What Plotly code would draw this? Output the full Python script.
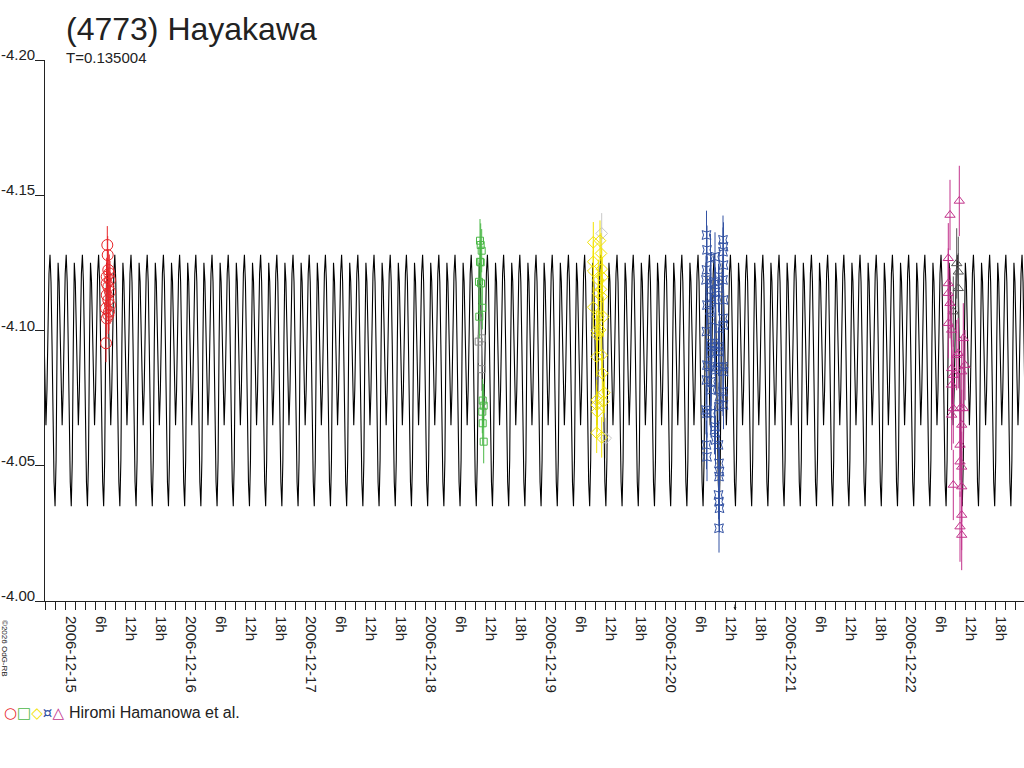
import pandas as pd
import plotly.graph_objects as go

# ---------------- data ----------------
TITLE = "(4773) Hayakawa"
PERIOD_DAYS = 0.135004
SUBTITLE = "T=0.135004"
OBSERVER = "Hiromi Hamanowa et al."
COPYRIGHT = "©2026 OdG-RB"

# one cycle of the fitted model light curve (phase, magnitude)
MODEL_PHASE = [0.0, 0.0625, 0.125, 0.1875, 0.25, 0.3125, 0.375, 0.4375,
               0.5, 0.5625, 0.625, 0.6875, 0.75, 0.8125, 0.875, 0.9375]
MODEL_MAG = [-4.128, -4.118, -4.095, -4.066, -4.044, -4.035, -4.052, -4.095,
             -4.125, -4.118, -4.098, -4.076, -4.065, -4.078, -4.102, -4.121]
MODEL_EPOCH = "2006-12-14 21:00"
MODEL_CYCLES = (-1, 62)

# session 1 : red circles, 2006-12-15
S1_DATE = "2006-12-15"
S1_HOURS = [8.46, 8.54, 8.66, 8.86, 8.34, 9.00, 8.34, 8.66, 9.00, 8.34, 8.66,
            9.00, 8.20, 8.80, 8.66, 8.34, 8.20]
S1_MAG = [-4.1316, -4.1279, -4.1224, -4.1211, -4.1199, -4.1187, -4.1174,
          -4.1162, -4.1143, -4.1131, -4.1113, -4.1094, -4.1082, -4.1070,
          -4.1057, -4.1045, -4.0953]
S1_ERR = 0.007

# session 2 : green squares, 2006-12-18
S2_DATE = "2006-12-18"
S2_HOURS = [11.00, 11.14, 11.34, 11.00, 11.14, 10.80, 11.20, 11.46, 10.86,
            11.54, 11.74, 11.46, 11.54, 11.74]
S2_MAG = [-4.1332, -4.1316, -4.1295, -4.1254, -4.1252, -4.1180, -4.1174,
          -4.1084, -4.1051, -4.0741, -4.0722, -4.0700, -4.0657, -4.0589]
S2_GREY_HOURS = [11.34, 10.74, 11.34]
S2_GREY_MAG = [-4.0971, -4.0959, -4.0857]
S2_ERR = 0.008

# session 3 : yellow diamonds, 2006-12-19
S3_DATE = "2006-12-19"
S3_HOURS = [11.00, 9.66, 11.20, 9.66, 11.34, 9.66, 11.46, 10.66, 11.20, 10.66,
            11.34, 9.66, 10.66, 11.66, 10.34, 11.00, 10.46, 10.34, 11.34,
            11.46, 11.86, 10.34, 10.34, 11.66, 10.46, 10.34, 11.34]
S3_MAG = [-4.1332, -4.1326, -4.1285, -4.1254, -4.1227, -4.1220, -4.1197,
          -4.1187, -4.1152, -4.1138, -4.1125, -4.1086, -4.1051, -4.1051,
          -4.0999, -4.1002, -4.0983, -4.0903, -4.0909, -4.0842, -4.0770,
          -4.0743, -4.0725, -4.0737, -4.0700, -4.0622, -4.0605]
S3_GREY_HOURS = [11.34, 12.14]
S3_GREY_MAG = [-4.1359, -4.0602]
S3_ERR = 0.0075

# session 4 : blue, 2006-12-20
S4_DATE = "2006-12-20"
S4_HOURS = [8.3, 8.4, 8.3, 8.2, 8.4, 8.3, 8.4, 8.3, 8.2, 8.4, 8.3, 8.4,
            9.1, 9.2, 9.1, 9.0, 9.2, 9.1, 9.2, 9.1, 9.0, 9.2, 9.1, 9.2,
            10.0, 9.9, 10.1, 10.0, 9.9, 10.0, 10.1, 10.0, 9.9, 10.1,
            10.8, 10.7, 10.9, 10.8, 10.7, 10.8, 10.9, 10.8, 10.7, 10.8, 10.9,
            10.8, 10.7, 10.8, 10.9, 10.8,
            11.6, 11.7, 11.6, 11.7, 11.6, 11.7, 11.6, 11.7, 11.6, 11.7, 11.6,
            11.7]
S4_MAG = [-4.1353, -4.1298, -4.1224, -4.1187, -4.1094, -4.0996, -4.0872,
          -4.0817, -4.0706, -4.0694, -4.0577, -4.0533,
          -4.1267, -4.1174, -4.1125, -4.1076, -4.1039, -4.0953, -4.0940,
          -4.0916, -4.0866, -4.0811, -4.0780, -4.0694,
          -4.1273, -4.1180, -4.1143, -4.1113, -4.0953, -4.0922, -4.0854,
          -4.0644, -4.0632, -4.0595,
          -4.1199, -4.1156, -4.1008, -4.0940, -4.0922, -4.0866, -4.0755,
          -4.0718, -4.0577, -4.0509, -4.0478, -4.0460, -4.0392, -4.0367,
          -4.0343, -4.0269,
          -4.1335, -4.1310, -4.1291, -4.1242, -4.1187, -4.1113, -4.1045,
          -4.1020, -4.0866, -4.0848, -4.0774, -4.0725]
S4_ERR = 0.009

# session 5 : magenta triangles, 2006-12-22
S5_DATE = "2006-12-22"
S5_HOURS = [10.86, 9.00, 8.66, 8.66, 8.66, 9.00, 8.66, 9.34, 11.66, 10.66,
            12.00, 10.34, 9.34, 9.66, 9.34, 11.34, 9.66, 11.00, 11.66, 11.34,
            9.34, 11.00, 11.00, 11.34, 9.66, 11.34, 11.34, 11.00, 11.34]
S5_MAG = [-4.1479, -4.1427, -4.1267, -4.1174, -4.1138, -4.1101, -4.1027,
          -4.1002, -4.0971, -4.0916, -4.0872, -4.0909, -4.0860, -4.0835,
          -4.0799, -4.0848, -4.0712, -4.0712, -4.0712, -4.0651, -4.0688,
          -4.0577, -4.0515, -4.0496, -4.0429, -4.0423, -4.0318, -4.0275,
          -4.0244]
S5_GREY_HOURS = [10.34, 10.66, 10.66, 9.66]
S5_GREY_MAG = [-4.1248, -4.1217, -4.1156, -4.1070]
S5_ERR = 0.013

Y_TICKS = [-4.20, -4.15, -4.10, -4.05, -4.00]
Y_TICK_TEXT = ["-4.20", "-4.15", "-4.10", "-4.05", "-4.00"]
X_START = "2006-12-14 20:00"
X_END = "2006-12-22 23:48"
HOUR_LABELS = {6: "6h", 12: "12h", 18: "18h"}
MARK_TIME = "2006-12-20 14:00"

# ---------------- build ----------------
FONT = "Liberation Sans, Arial, sans-serif"


def times(date, hours):
    base = pd.Timestamp(date)
    return [base + pd.Timedelta(hours=h) for h in hours]


epoch = pd.Timestamp(MODEL_EPOCH)
mx, my = [], []
for k in range(MODEL_CYCLES[0], MODEL_CYCLES[1]):
    for ph, m in zip(MODEL_PHASE, MODEL_MAG):
        mx.append(epoch + pd.Timedelta(days=(k + ph) * PERIOD_DAYS))
        my.append(m)

fig = go.Figure()
fig.add_trace(go.Scatter(x=mx, y=my, mode="lines",
                         line=dict(color="#000000", width=1.1),
                         hoverinfo="skip", showlegend=False))

sessions = [
    (S1_DATE, S1_HOURS, S1_MAG, [], [], S1_ERR, "#e8262a", "circle-open", 11, "#909090"),
    (S2_DATE, S2_HOURS, S2_MAG, S2_GREY_HOURS, S2_GREY_MAG, S2_ERR, "#4cb848", "square-open", 7, "#8a8a8a"),
    (S3_DATE, S3_HOURS, S3_MAG, S3_GREY_HOURS, S3_GREY_MAG, S3_ERR, "#f2e300", "diamond-open", 9, "#c8c8c8"),
    (S4_DATE, S4_HOURS, S4_MAG, [], [], S4_ERR, "#3352a3", "star-square-open", 8, "#555555"),
    (S5_DATE, S5_HOURS, S5_MAG, S5_GREY_HOURS, S5_GREY_MAG, S5_ERR, "#c2348c", "triangle-up-open", 9, "#555555"),
]
for date, hrs, mags, ghrs, gmags, err, col, sym, size, gcol in sessions:
    if ghrs:
        fig.add_trace(go.Scatter(
            x=times(date, ghrs), y=gmags, mode="markers",
            marker=dict(symbol=sym, size=size, color=gcol, line=dict(width=1, color=gcol)),
            error_y=dict(type="constant", value=err, color=gcol, thickness=1, width=0),
            showlegend=False))
    fig.add_trace(go.Scatter(
        x=times(date, hrs), y=mags, mode="markers",
        marker=dict(symbol=sym, size=size, color=col, line=dict(width=1, color=col)),
        error_y=dict(type="constant", value=err, color=col, thickness=1, width=0),
        showlegend=False))

tickvals = list(pd.date_range(X_START, "2006-12-22 22:00", freq="2h"))
ticktext = []
for t in tickvals:
    if t.hour == 0:
        ticktext.append(t.strftime("%Y-%m-%d"))
    else:
        ticktext.append(HOUR_LABELS.get(t.hour, ""))

fig.update_xaxes(type="date", range=[X_START, X_END], automargin=False,
                 tickmode="array", tickvals=tickvals, ticktext=ticktext,
                 tickangle=90, ticks="outside", ticklen=8, tickcolor="#222",
                 tickfont=dict(family=FONT, size=15, color="#222"),
                 ticklabelshift=6, ticklabelstandoff=3,
                 showline=True, linecolor="#222", linewidth=1,
                 showgrid=False, zeroline=False)
fig.update_yaxes(range=[-4.0, -4.2], automargin=False, tickmode="array",
                 tickvals=Y_TICKS, ticktext=Y_TICK_TEXT, showticklabels=False,
                 ticks="outside", ticklen=9, tickcolor="#222",
                 showline=True, linecolor="#222", linewidth=1,
                 showgrid=False, zeroline=False)

W, H = 1024, 768
L, R, T, B = 45, 0, 60, 167
PW, PH = W - L - R, H - T - B


def px(xp):
    return (xp - L) / PW


def py(yp):
    return (H - B - yp) / PH


annotations = [
    dict(text=TITLE, x=px(64), y=py(29), xanchor="left", yanchor="middle",
         font=dict(family=FONT, size=32, color="#222")),
    dict(text=SUBTITLE, x=px(64), y=py(58), xanchor="left", yanchor="middle",
         font=dict(family=FONT, size=15, color="#222")),
    dict(text=COPYRIGHT, x=px(5), y=py(648), xanchor="center", yanchor="middle",
         textangle=90, font=dict(family=FONT, size=8, color="#222")),
    dict(text=("<span style='color:#e8262a'>○</span>"
               "<span style='color:#4cb848'>□</span>"
               "<span style='color:#f2e300'>◇</span>"
               "<span style='color:#3352a3'>¤</span>"
               "<span style='color:#c2348c'>△</span>"),
         x=px(2), y=py(713), xanchor="left", yanchor="middle",
         font=dict(family="DejaVu Sans", size=15)),
    dict(text=OBSERVER, x=px(67), y=py(712), xanchor="left", yanchor="middle",
         font=dict(family=FONT, size=16, color="#222")),
    dict(text="", x=MARK_TIME, xref="x", y=py(610), yref="paper",
         showarrow=True, arrowhead=2, arrowsize=0.6, arrowwidth=1,
         arrowcolor="#222", ax=0, ay=-7),
]
for v, s in zip(Y_TICKS, Y_TICK_TEXT):
    annotations.append(dict(text=s, x=px(37), xref="paper", y=v, yref="y",
                            xanchor="right", yanchor="bottom", yshift=-5,
                            font=dict(family=FONT, size=15, color="#222")))
for a in annotations:
    a.setdefault("xref", "paper")
    a.setdefault("yref", "paper")
    a.setdefault("showarrow", False)

fig.update_layout(width=W, height=H, margin=dict(l=L, r=R, t=T, b=B),
                  paper_bgcolor="white", plot_bgcolor="white",
                  showlegend=False, annotations=annotations,
                  font=dict(family=FONT, color="#222"))

fig.write_html("out.html", config={"displayModeBar": False},
               post_script="document.body.style.margin='0px';"
                           "document.body.style.overflow='hidden';")
